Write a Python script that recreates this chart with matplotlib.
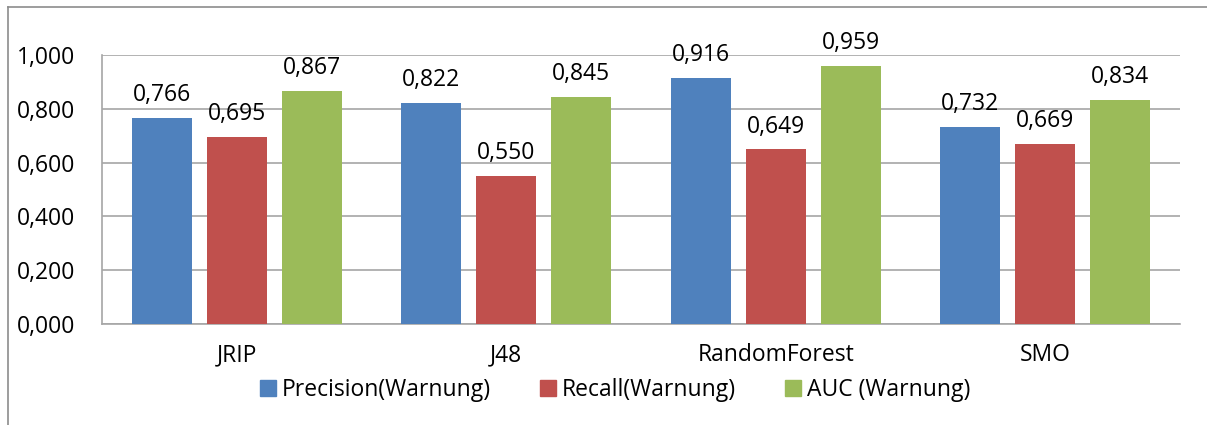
import numpy as np
import matplotlib.pyplot as plt
from matplotlib.lines import Line2D

categories = ['JRIP', 'J48', 'RandomForest', 'SMO']
precision = [0.766, 0.822, 0.916, 0.732]
recall = [0.695, 0.550, 0.649, 0.669]
auc = [0.867, 0.845, 0.959, 0.834]
series_names = ['Precision(Warnung)', 'Recall(Warnung)', 'AUC (Warnung)']
colors = ['#4f81bd', '#c0504d', '#9bbb59']

plt.rcParams['font.family'] = ['Open Sans', 'DejaVu Sans']
fs = 16.5

fig = plt.figure(figsize=(12.07, 4.25), dpi=100)
ax = fig.add_axes([102 / 1207, 1 - 324 / 425, (1180 - 102) / 1207, (324 - 55) / 425])

x = np.arange(len(categories))
width = 0.2226
step = 0.278
for i, (vals, name, c) in enumerate(zip([precision, recall, auc], series_names, colors)):
    pos = x + (i - 1) * step
    bars = ax.bar(pos, vals, width, color=c, label=name, zorder=3)
    for b, v in zip(bars, vals):
        ax.text(b.get_x() + b.get_width() / 2, v + 0.04, f'{v:.3f}'.replace('.', ','),
                ha='center', va='bottom', fontsize=fs, color='black')

ax.set_xlim(-0.5, len(categories) - 0.5)
ax.set_ylim(0, 1.0)
yt = np.arange(0, 1.01, 0.2)
ax.set_yticks(yt)
ax.set_yticklabels([f'{v:.3f}'.replace('.', ',') for v in yt], fontsize=fs)
ax.set_xticks(x)
ax.set_xticklabels(categories, fontsize=fs)
ax.tick_params(axis='both', length=0)
ax.tick_params(axis='y', pad=19)
ax.tick_params(axis='x', pad=14)
ax.grid(axis='y', color='#a6a6a6', linewidth=1.2, zorder=0)
for s in ['top', 'right']:
    ax.spines[s].set_visible(False)
for s in ['left', 'bottom']:
    ax.spines[s].set_color('#a6a6a6')
    ax.spines[s].set_linewidth(1.2)

handles = [Line2D([], [], marker='s', linestyle='', markersize=11, color=c) for c in colors]
fig.legend(handles, series_names, loc='center', bbox_to_anchor=(613 / 1207, 1 - 390 / 425),
           ncol=3, frameon=False, fontsize=fs, handletextpad=0.1, columnspacing=2.0,
           handlelength=1.0)

# outer chart border (only top and left visible in reference)
fig.add_artist(Line2D([8 / 1207, 8 / 1207], [0, 1 - 7 / 425], color='#8c8c8c', linewidth=1.2))
fig.add_artist(Line2D([8 / 1207, 1], [1 - 7 / 425, 1 - 7 / 425], color='#8c8c8c', linewidth=1.2))

fig.savefig('out.png', dpi=100)
